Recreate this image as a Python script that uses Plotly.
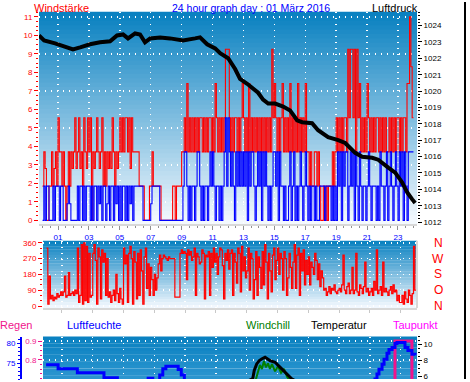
import plotly.graph_objects as go

W, H = 470, 382
FONT = "Liberation Sans, Arial, sans-serif"
RED, BLUE, GREEN, PINK, MAGENTA = "#ff0000", "#0000ff", "#008000", "#f0148c", "#ff00ff"

# ---------------- data ----------------
step_start_hour = 0.0
step_minutes = 5

# Windstärke (mean wind), 5-minute steps 00:00 .. 24:00
wind_speed = [
    0, 1.85, 0, 1.85, 1.85, 0, 0, 0, 1.85, 0, 1.85, 1.85,
    1.85, 0, 1.85, 1.85, 0, 0, 0, 0.9, 1.85, 0.9, 0, 0,
    0, 0, 0, 1.85, 0, 1.85, 1.85, 0, 1.85, 0, 1.85, 1.85,
    1.85, 0, 1.85, 0, 1.85, 1.85, 0, 1.85, 0.9, 1.85, 0, 1.85,
    1.85, 0, 0.9, 1.85, 0, 1.85, 1.85, 0, 1.85, 0.9, 1.85, 0,
    1.85, 0, 1.85, 1.85, 0, 1.85, 0, 1.85, 0.9, 1.85, 0, 1.85,
    1.85, 1.85, 1.85, 1.85, 1.85, 1.85, 0, 0, 0, 0, 0, 0,
    0.9, 1.85, 1.85, 1.85, 1.85, 1.85, 1.85, 0, 0, 0, 0, 0,
    0, 0, 0, 0, 0, 0, 0, 0, 0, 0, 0, 0,
    0, 1.85, 3.7, 3.7, 1.85, 0, 1.85, 0, 1.85, 1.85, 0, 1.85,
    3.7, 3.7, 1.85, 0, 1.85, 0, 1.85, 1.85, 0, 1.85, 3.7, 1.85,
    3.7, 1.85, 0, 1.85, 1.85, 0, 1.85, 0, 1.85, 3.7, 5.55, 1.85,
    5.55, 3.7, 1.85, 3.7, 1.85, 0, 3.7, 1.85, 3.7, 1.85, 3.7, 1.85,
    3.7, 1.85, 3.7, 0, 3.7, 1.85, 3.7, 3.7, 1.85, 0, 1.85, 3.7,
    1.85, 3.7, 0, 3.7, 1.85, 3.7, 1.85, 0, 1.85, 0, 1.85, 3.7,
    3.7, 1.85, 3.7, 0, 3.7, 1.85, 1.85, 0, 1.85, 0, 0, 1.85,
    3.7, 0, 1.85, 3.7, 0, 1.85, 0, 1.85, 3.7, 1.85, 0, 1.85,
    3.7, 1.85, 0, 1.85, 0, 1.85, 1.85, 0, 1.85, 0, 0, 1.85,
    1.85, 1.85, 1.85, 0, 1.85, 1.85, 1.85, 1.85, 0, 1.85, 0, 1.85,
    0, 3.7, 1.85, 3.7, 0, 3.7, 1.85, 3.7, 3.7, 0, 1.85, 3.7,
    1.85, 3.7, 0, 3.7, 1.85, 0, 3.7, 1.85, 0, 1.85, 1.85, 0,
    1.85, 3.7, 1.85, 0, 1.85, 1.85, 1.85, 0, 1.85, 0, 3.7, 1.85,
    1.85, 0, 1.85, 3.7, 0, 1.85, 3.7, 1.85, 0, 1.85, 3.7, 1.85,
    0, 3.7, 1.85, 3.7, 0, 3.7, 1.85, 0, 3.7, 3.7, 3.7, 3.7,
    3.7,
]

# Böen (gusts), 5-minute steps
wind_gust = [
    1.85, 3.7, 2.8, 0, 0, 1.85, 1.85, 3.7, 1.85, 2.8, 3.7, 1.85,
    5.55, 3.7, 3.7, 1.85, 3.7, 1.85, 0, 1.85, 3.7, 1.85, 3.7, 2.8,
    3.7, 5.55, 2.8, 3.7, 5.55, 2.8, 3.7, 1.85, 5.55, 3.7, 2.8, 5.55,
    3.7, 5.55, 0, 3.7, 2.8, 3.7, 5.55, 3.7, 2.8, 3.7, 5.55, 1.85,
    3.7, 1.85, 3.7, 2.8, 3.7, 2.8, 5.55, 3.7, 1.85, 3.7, 2.8, 3.7,
    5.55, 3.7, 5.55, 3.7, 5.55, 5.55, 3.7, 5.55, 2.8, 5.55, 3.7, 3.7,
    3.7, 3.7, 3.7, 1.85, 1.85, 1.85, 1.85, 0, 0, 0, 0, 1.85,
    1.85, 3.7, 1.85, 1.85, 1.85, 1.85, 1.85, 1.85, 0, 0, 0, 0,
    0, 0, 0, 0, 0, 1.85, 1.85, 0, 1.85, 1.85, 1.85, 1.85,
    3.7, 3.7, 5.55, 3.7, 7.4, 3.7, 5.55, 3.7, 5.55, 3.7, 5.55, 3.7,
    5.55, 3.7, 5.55, 5.55, 3.7, 5.55, 3.7, 5.55, 3.7, 5.55, 5.55, 3.7,
    5.55, 3.7, 7.4, 5.55, 3.7, 5.55, 3.7, 5.55, 3.7, 5.55, 9.25, 9.25,
    9.25, 5.55, 3.7, 5.55, 3.7, 5.55, 5.55, 3.7, 5.55, 3.7, 5.55, 7.4,
    5.55, 3.7, 5.55, 3.7, 7.4, 3.7, 5.55, 3.7, 5.55, 3.7, 5.55, 3.7,
    5.55, 3.7, 5.55, 3.7, 5.55, 3.7, 5.55, 3.7, 5.55, 3.7, 9.25, 5.55,
    7.4, 5.55, 3.7, 5.55, 3.7, 5.55, 7.4, 3.7, 5.55, 3.7, 5.55, 3.7,
    7.4, 3.7, 5.55, 3.7, 5.55, 3.7, 7.4, 3.7, 5.55, 3.7, 5.55, 3.7,
    7.4, 3.7, 3.7, 1.85, 3.7, 1.85, 1.85, 3.7, 3.7, 1.85, 3.7, 1.85,
    0, 0, 1.85, 0, 1.85, 0, 1.85, 1.85, 1.85, 3.7, 1.85, 3.7,
    5.55, 3.7, 5.55, 3.7, 5.55, 3.7, 5.55, 5.55, 3.7, 9.25, 5.55, 9.25,
    9.25, 5.55, 9.25, 3.7, 9.25, 5.55, 7.4, 3.7, 5.55, 3.7, 5.55, 3.7,
    7.4, 5.55, 3.7, 5.55, 3.7, 5.55, 3.7, 5.55, 5.55, 3.7, 5.55, 3.7,
    5.55, 3.7, 5.55, 3.7, 3.7, 5.55, 3.7, 5.55, 3.7, 5.55, 3.7, 5.55,
    5.55, 3.7, 5.55, 3.7, 5.55, 5.55, 3.7, 7.4, 7.4, 11.0, 8.3, 5.55,
    5.55,
]

# Windrichtung (degrees), 5-minute steps
wind_dir = [
    330, 10, 170, 40, 60, 30, 50, 40, 70, 50, 60, 80,
    60, 80, 170, 50, 60, 190, 60, 70, 80, 60, 90, 70,
    330, 20, 60, 350, 10, 360, 30, 340, 20, 300, 50, 60,
    300, 350, 260, 10, 330, 280, 40, 320, 250, 300, 60, 270,
    50, 80, 20, 60, 90, 30, 180, 70, 20, 100, 40, 10,
    330, 240, 290, 20, 300, 340, 270, 10, 310, 250, 40, 300,
    60, 320, 200, 10, 280, 330, 100, 240, 60, 220, 150, 60,
    180, 90, 160, 240, 290, 200, 270, 290, 280, 270, 260, 280,
    270, 270, 270, 270, 50, 50, 50, 50, 300, 320, 300, 310,
    300, 150, 320, 290, 310, 260, 280, 330, 60, 300, 280, 240,
    250, 320, 300, 40, 290, 280, 310, 60, 300, 220, 330, 250,
    300, 180, 280, 330, 320, 230, 40, 300, 260, 320, 210, 300,
    320, 60, 300, 250, 130, 330, 300, 80, 340, 200, 280, 160,
    200, 330, 90, 300, 270, 40, 150, 310, 60, 280, 220, 100,
    310, 120, 350, 250, 40, 300, 200, 80, 290, 330, 150, 260,
    330, 180, 300, 270, 90, 310, 270, 60, 160, 300, 220, 100,
    250, 350, 100, 290, 330, 60, 300, 200, 320, 120, 260, 180,
    280, 120, 250, 220, 180, 300, 260, 150, 240, 110, 200, 160,
    90, 100, 60, 80, 110, 70, 100, 90, 120, 80, 70, 90,
    100, 80, 120, 290, 90, 70, 110, 130, 70, 90, 220, 70,
    90, 300, 80, 60, 120, 100, 70, 110, 250, 80, 100, 60,
    80, 100, 60, 140, 90, 320, 70, 90, 110, 60, 250, 80,
    100, 80, 60, 90, 110, 70, 120, 80, 90, 30, 60, 20,
    20, 60, 10, 80, 40, 20, 90, 60, 10, 70, 340, 90,
    90,
]

# Luftdruck (hPa)
pressure_hours = [-0.23, 0.10, 0.81, 1.13, 1.97, 2.43, 3.07, 3.72, 4.37, 4.82, 5.21, 5.53,
                  5.99, 6.31, 6.63, 6.96, 7.61, 8.25, 9.09, 9.87, 10.19, 10.65, 11.17, 11.49,
                  12.01, 12.46, 12.78, 13.24, 13.62, 13.95, 14.27, 14.60, 15.05, 15.57, 16.02,
                  16.47, 16.80, 17.44, 17.83, 18.48, 19.13, 19.58, 20.23, 20.68, 21.33, 21.72,
                  22.37, 22.82, 23.27, 23.59, 23.91, 24.11]
pressure_hpa = [1023.40, 1023.10, 1022.92, 1022.80, 1022.55, 1022.67, 1022.86, 1022.98, 1023.04,
                1023.40, 1023.46, 1023.22, 1023.52, 1023.46, 1022.98, 1023.22, 1023.28, 1023.22,
                1023.10, 1023.22, 1023.28, 1022.86, 1022.61, 1022.31, 1022.01, 1021.35, 1020.75,
                1020.45, 1020.14, 1019.90, 1019.48, 1019.24, 1019.24, 1019.06, 1018.82, 1018.22,
                1018.10, 1018.04, 1017.61, 1017.19, 1017.01, 1016.83, 1016.23, 1015.99, 1015.93,
                1015.81, 1015.33, 1015.02, 1014.42, 1013.82, 1013.40, 1013.16]

# Luftfeuchte (%)
humidity_hours = [-0.03, 0.75, 2.0, 3.73, 4.6, 5.5, 6.6, 6.9, 7.35, 7.55, 7.75, 8.55, 8.75,
                  8.95, 9.5, 12.0, 15.0, 18.0, 20.0, 21.0, 21.33, 21.46, 21.59, 21.79, 21.92,
                  22.11, 22.24, 22.44, 22.63, 22.76, 23.08, 23.28, 23.47, 23.73, 23.93]
humidity_pct = [74.6, 73.6, 72.6, 71.3, 69.5, 69.0, 71.2, 70.5, 72.0, 73.6, 74.2, 73.4, 72.0,
                70.0, 66.0, 60.0, 58.0, 63.0, 67.0, 69.5, 71.0, 72.25, 73.5, 74.75, 76.0,
                77.5, 78.5, 79.0, 80.0, 80.25, 80.25, 79.0, 78.25, 77.25, 77.0]

# Temperatur (°C)
temp_hours = [0, 3, 6, 9, 12, 13.0, 13.39, 13.49, 13.65, 13.82, 13.97, 14.19, 14.51, 14.84,
              15.16, 15.49, 15.70, 15.92, 16.5, 19, 22, 24]
temp_c = [2.5, 2.0, 2.2, 3.5, 4.8, 5.3, 5.66, 6.71, 7.54, 7.96, 8.16, 8.37, 7.96, 7.75,
          7.13, 6.5, 6.09, 5.66, 5.0, 4.2, 3.6, 3.4]

# Windchill (°C)
chill_hours = [0, 3, 6, 9, 12, 13.3, 13.6, 13.73, 13.86, 13.99, 14.12, 14.25, 14.38, 14.51,
               14.64, 14.84, 15.03, 15.23, 15.42, 15.62, 15.9, 17, 20, 24]
chill_c = [1.0, 0.5, 0.8, 2.0, 3.5, 4.8, 5.6, 6.5, 7.4, 6.9, 7.9, 7.1, 7.6, 6.9,
           7.5, 6.6, 7.25, 6.4, 6.9, 5.9, 5.2, 4.0, 2.8, 2.5]

# Regen (mm)
rain_hours = [0, 22.63, 23.73, 24]
rain_mm = [0, 0.9, 0, 0]

hour_ticks = [1, 3, 5, 7, 9, 11, 13, 15, 17, 19, 21, 23]
hour_labels = ["01", "03", "05", "07", "09", "11", "13", "15", "17", "19", "21", "23"]
beaufort_grid = [1, 3, 5, 7, 9, 11]
dir_ticks = [0, 90, 180, 270, 360]
dir_letters = ["N", "O", "S", "W", "N"]
rain_ticks = [0.8, 0.9]
rain_labels = ["0.8", "0.9"]
humidity_ticks = [75, 80]
temp_ticks = [6, 8, 10]

step_hours = [step_start_hour + i * step_minutes / 60 for i in range(len(wind_speed))]


def px(x):
    return x / W


def py(y):
    return 1 - y / H


fig = go.Figure()

fig.add_trace(go.Scatter(x=step_hours, y=wind_gust, mode="lines", line=dict(color=RED, width=1.1, shape="hv"),
                         xaxis="x", yaxis="y", hoverinfo="skip"))
fig.add_trace(go.Scatter(x=step_hours, y=wind_speed, mode="lines", line=dict(color=BLUE, width=1.1, shape="hv"),
                         xaxis="x", yaxis="y", hoverinfo="skip"))
fig.add_trace(go.Scatter(x=pressure_hours, y=pressure_hpa, mode="lines", line=dict(color="black", width=4),
                         xaxis="x", yaxis="y2", hoverinfo="skip"))
fig.add_trace(go.Scatter(x=[None], y=[None], mode="lines", xaxis="x", yaxis="y7", hoverinfo="skip"))
fig.add_trace(go.Scatter(x=step_hours, y=wind_dir, mode="lines", line=dict(color=RED, width=1.2, shape="hv"),
                         xaxis="x2", yaxis="y3", hoverinfo="skip"))
fig.add_trace(go.Scatter(x=rain_hours, y=rain_mm, mode="lines", line=dict(color=PINK, width=3, shape="hv"),
                         xaxis="x3", yaxis="y4", hoverinfo="skip"))
fig.add_trace(go.Scatter(x=humidity_hours, y=humidity_pct, mode="lines", line=dict(color=BLUE, width=3, shape="hv"),
                         xaxis="x3", yaxis="y5", hoverinfo="skip"))
fig.add_trace(go.Scatter(x=chill_hours, y=chill_c, mode="lines", line=dict(color=GREEN, width=2),
                         xaxis="x3", yaxis="y6", hoverinfo="skip"))
fig.add_trace(go.Scatter(x=temp_hours, y=temp_c, mode="lines", line=dict(color="black", width=3),
                         xaxis="x3", yaxis="y6", hoverinfo="skip"))

# gradient backgrounds
shapes = []


def gradient(xr, yr, c0, c1, n=48):
    for k in range(n):
        t = (k + 0.5) / n
        col = tuple(int(round(c0[i] + (c1[i] - c0[i]) * t)) for i in range(3))
        shapes.append(dict(type="rect", xref=xr, yref=yr, x0=0, x1=1,
                           y0=max(0, 1 - (k + 1) / n - 0.004), y1=1 - k / n,
                           fillcolor="rgb(%d,%d,%d)" % col, line=dict(width=0), layer="below"))


gradient("x domain", "y domain", (8, 128, 192), (246, 250, 255))
gradient("x2 domain", "y3 domain", (8, 128, 192), (246, 250, 255), n=24)
gradient("x3 domain", "y4 domain", (8, 128, 192), (45, 150, 208), n=12)
shapes.append(dict(type="line", xref="paper", yref="paper", x0=px(465), x1=px(465), y0=0, y1=1,
                   line=dict(color="black", width=2)))
shapes.append(dict(type="line", xref="x2 domain", yref="y3 domain", x0=1, x1=1, y0=0, y1=1,
                   line=dict(color="#d8d8d8", width=2)))

grid = dict(showgrid=True, gridcolor="white", griddash="1px,5px", gridwidth=1.5)
tf = lambda c: dict(family=FONT, size=8, color=c)

layout = dict(
    width=W, height=H, margin=dict(l=0, r=0, t=0, b=0), showlegend=False, hovermode=False,
    paper_bgcolor="white", plot_bgcolor="white", shapes=shapes,
    xaxis=dict(domain=[px(39), px(417)], range=[-0.23, 24.23], anchor="y",
               tickmode="array", tickvals=hour_ticks, ticktext=hour_labels, tickfont=tf(BLUE),
               ticks="outside", ticklen=4, tickcolor="#909090",
               minor=dict(tickmode="linear", tick0=0, dtick=0.5, ticks="outside", ticklen=2, tickcolor="#909090"),
               showline=True, linecolor="#d8d8d8", linewidth=2, zeroline=False, **grid),
    yaxis=dict(domain=[py(225), py(10)], range=[-0.2, 11.27], anchor="x",
               tickmode="linear", tick0=0, dtick=1, tickfont=tf(RED),
               ticks="outside", ticklen=4, tickcolor=RED,
               minor=dict(dtick=0.25, ticks="outside", ticklen=2, tickcolor=RED),
               showgrid=False, zeroline=False),
    yaxis2=dict(overlaying="y", side="right", anchor="x", range=[1011.88, 1024.84],
                tickmode="linear", tick0=1012, dtick=1, tickfont=tf("black"),
                ticks="outside", ticklen=4, tickcolor="black",
                minor=dict(dtick=0.2, ticks="outside", ticklen=2, tickcolor="black"),
                showgrid=False, zeroline=False),
    yaxis7=dict(overlaying="y", anchor="x", range=[-0.2, 11.27], tickmode="array", tickvals=beaufort_grid,
                showticklabels=False, ticks="", zeroline=False, **grid),
    xaxis2=dict(domain=[px(43), px(417)], range=[-0.23, 24.06], anchor="y3",
                tickmode="array", tickvals=hour_ticks, showticklabels=False,
                ticks="outside", ticklen=3, tickcolor="#c8c8c8",
                showline=True, linecolor="#d8d8d8", linewidth=2, zeroline=False, **grid),
    yaxis3=dict(domain=[py(310), py(242)], range=[-11, 371], anchor="x2",
                tickmode="array", tickvals=dir_ticks, tickfont=tf(RED),
                ticks="outside", ticklen=4, tickcolor=RED,
                minor=dict(tickmode="linear", tick0=0, dtick=30, ticks="outside", ticklen=2, tickcolor=RED),
                zeroline=False, **grid),
    xaxis3=dict(domain=[px(43), px(417)], range=[-0.23, 24.06], anchor="y4",
                tickmode="array", tickvals=hour_ticks, showticklabels=False, ticks="",
                zeroline=False, **grid),
    yaxis4=dict(domain=[0, py(339)], range=[0.6974, 0.9237], anchor="x3",
                tickmode="array", tickvals=rain_ticks, ticktext=rain_labels, tickfont=tf(PINK),
                ticks="outside", ticklen=4, tickcolor=PINK,
                minor=dict(tickmode="linear", tick0=0, dtick=0.025, ticks="outside", ticklen=2, tickcolor=PINK),
                zeroline=False, **grid),
    yaxis5=dict(overlaying="y4", anchor="free", position=px(21), side="left", range=[71, 81.75],
                tickmode="array", tickvals=humidity_ticks, tickfont=tf(BLUE),
                ticks="outside", ticklen=3, tickcolor=BLUE,
                minor=dict(tickmode="linear", tick0=0, dtick=1, ticks="outside", ticklen=2, tickcolor=BLUE),
                showline=True, linecolor=BLUE, linewidth=2, showgrid=False, zeroline=False),
    yaxis6=dict(overlaying="y4", anchor="x3", side="right", range=[5.625, 11],
                tickmode="array", tickvals=temp_ticks, tickfont=tf("black"),
                ticks="outside", ticklen=4, tickcolor="black",
                minor=dict(tickmode="linear", tick0=0, dtick=0.5, ticks="outside", ticklen=2, tickcolor="black"),
                showgrid=False, zeroline=False),
)
fig.update_layout(**layout)


def label(text, x, y, color, size=11):
    fig.add_annotation(text=text, x=px(x), y=py(y), xref="paper", yref="paper", xanchor="left",
                       yanchor="middle", showarrow=False, font=dict(family=FONT, size=size, color=color),
                       borderpad=0)


label("Windstärke", 33, 6.5, RED)
label("24 hour graph day : 01 März 2016", 171, 6.5, BLUE, 10.5)
label("Luftdruck", 371, 6.5, "black")
label("Regen", -1, 327, PINK)
label("Luftfeuchte", 66, 327, BLUE)
label("Windchill", 245, 327, GREEN)
label("Temperatur", 310, 327, "black")
label("Taupunkt", 392, 327, MAGENTA)

for letter, deg in zip(dir_letters, dir_ticks):
    fig.add_annotation(text=letter, x=px(438), y=deg, xref="paper", yref="y3", xanchor="center",
                       yanchor="middle", showarrow=False, font=dict(family=FONT, size=12, color=RED))

fig.write_html("out.html", config={"displayModeBar": False, "staticPlot": True},
               post_script="document.body.style.margin='0px';document.body.style.overflow='hidden';")
